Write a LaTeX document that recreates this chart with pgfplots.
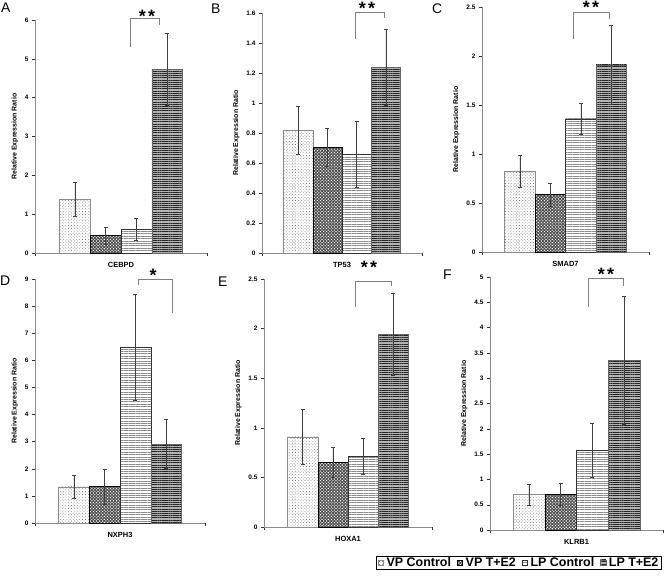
\documentclass[border=0pt]{standalone}
\usepackage{fontspec}
\setmainfont{Liberation Sans}
\usepackage{pgfplots}
\pgfplotsset{compat=1.18}
\usetikzlibrary{patterns.meta}
\tikzset{
  vpc/.style={draw=black!45, fill=white, postaction={pattern={Dots[distance=2.2bp, radius=0.5bp, angle=45]}, pattern color=black!55}},
  vpt/.style={draw=black, fill=black!70, postaction={pattern={Dots[distance=2.2bp, radius=0.75bp, angle=45]}, pattern color=white}},
  lpc/.style={draw=black!80, fill=white, postaction={pattern={Lines[distance=2.4bp, line width=0.6bp]}, pattern color=black!45}},
  lpt/.style={draw=black!60, fill=black!30, postaction={pattern={Lines[distance=2.2bp, line width=0.55bp]}, pattern color=black!85}},
}
\pgfplotsset{
  sqleg/.style={legend image code/.code={\draw[##1] (0bp,-2.8bp) rectangle (5.6bp,2.8bp);}},
  panel/.style={
    scale only axis, anchor=south west,
    xmin=0, xmax=2, ymin=0,
    ybar=0pt,
    axis x line*=bottom, axis y line*=left,
    axis line style={black!45, line width=0.7pt},
    xtick={0,2}, xticklabels={},
    tick align=outside, major tick length=3bp,
    tick style={black!80, line width=0.4pt},
    ticklabel style={font=\fontsize{6.5}{7}\selectfont\bfseries},
    /pgf/number format/assume math mode=true,
    ylabel={Relative Expression Ratio},
    ylabel style={font=\fontsize{7}{8}\selectfont\bfseries},
    xlabel style={font=\fontsize{7.5}{8}\selectfont\bfseries, at={(axis description cs:0.5,0)}, anchor=center, yshift=-12bp},
    clip=false,
    every axis plot/.append style={sqleg, error bars/y dir=both, error bars/y explicit,
      error bars/error bar style={black!75, line width=0.5pt},
      error bars/error mark options={rotate=90, mark size=2bp, black!75, line width=0.5pt}},
  }
}
\begin{document}
\begin{tikzpicture}
\path[use as bounding box] (0,0) rectangle (664bp,-577bp);

% A
\begin{axis}[panel, at={(35bp,-253bp)}, width=172bp, height=233bp, ymax=6, ytick={0,1,...,6}, bar width=30.75bp, xlabel={CEBPD}]
\addplot[vpc] coordinates {(1,1.38) +- (0,0.43)};
\addplot[vpt] coordinates {(1,0.45) +- (0,0.22)};
\addplot[lpc] coordinates {(1,0.61) +- (0,0.29)};
\addplot[lpt] coordinates {(1,4.73) +- (0,0.93)};
\end{axis}

% B
\begin{axis}[panel, at={(262bp,-253bp)}, width=160bp, height=240bp, ymax=1.6, ytick={0,0.2,...,1.6}, bar width=29.25bp, xlabel={TP53}]
\addplot[vpc] coordinates {(1,0.82) +- (0,0.16)};
\addplot[vpt] coordinates {(1,0.705) +- (0,0.125)};
\addplot[lpc] coordinates {(1,0.66) +- (0,0.22)};
\addplot[lpt] coordinates {(1,1.24) +- (0,0.255)};
\end{axis}

% C
\begin{axis}[panel, at={(482bp,-252bp)}, width=167bp, height=245bp, ymax=2.5, ytick={0,0.5,...,2.5}, bar width=30.5bp, xlabel={SMAD7}]
\addplot[vpc] coordinates {(1,0.825) +- (0,0.16)};
\addplot[vpt] coordinates {(1,0.585) +- (0,0.12)};
\addplot[lpc] coordinates {(1,1.36) +- (0,0.16)};
\addplot[lpt] coordinates {(1,1.91) +- (0,0.405)};
\end{axis}

% D
\begin{axis}[panel, at={(35bp,-523bp)}, width=170bp, height=244bp, ymax=9, ytick={0,1,...,9}, bar width=30.75bp, xlabel={NXPH3}]
\addplot[vpc] coordinates {(1,1.33) +- (0,0.42)};
\addplot[vpt] coordinates {(1,1.35) +- (0,0.64)};
\addplot[lpc] coordinates {(1,6.49) +- (0,1.95)};
\addplot[lpt] coordinates {(1,2.91) +- (0,0.9)};
\end{axis}

% E
\begin{axis}[panel, at={(264bp,-527bp)}, width=168bp, height=248bp, ymax=2.5, ytick={0,0.5,...,2.5}, bar width=30.25bp, xlabel={HOXA1}]
\addplot[vpc] coordinates {(1,0.91) +- (0,0.28)};
\addplot[vpt] coordinates {(1,0.655) +- (0,0.15)};
\addplot[lpc] coordinates {(1,0.71) +- (0,0.18)};
\addplot[lpt] coordinates {(1,1.94) +- (0,0.415)};
\end{axis}

% F
\begin{axis}[panel, at={(490bp,-530bp)}, width=173bp, height=253bp, ymax=5, ytick={0,0.5,...,5}, bar width=31.75bp, xlabel={KLRB1},
  legend columns=4,
  legend style={at={(0.994,-0.103)}, anchor=north east, draw=black, line width=0.5pt,
    font=\fontsize{12.5}{13}\selectfont\bfseries, inner xsep=1.5bp, inner ysep=0.5bp,
    nodes={inner xsep=1.8bp, inner ysep=0.6bp},
    /tikz/every even column/.append style={column sep=4bp},
    /tikz/every odd column/.append style={column sep=1bp}},
  legend cell align=left]
\addplot[vpc] coordinates {(1,0.70) +- (0,0.21)};
\addplot[vpt] coordinates {(1,0.70) +- (0,0.22)};
\addplot[lpc] coordinates {(1,1.57) +- (0,0.53)};
\addplot[lpt] coordinates {(1,3.35) +- (0,1.26)};
\legend{VP Control, VP T+E2, LP Control, LP T+E2}
\end{axis}

% panel letters
\begin{scope}[every node/.style={anchor=base west, inner sep=0pt, font=\fontsize{14}{14}\selectfont}]
\node at (1bp,-12bp) {A};
\node at (211bp,-13bp) {B};
\node at (432bp,-13bp) {C};
\node at (0bp,-285bp) {D};
\node at (218bp,-286bp) {E};
\node at (443bp,-279bp) {F};
\end{scope}

% significance brackets
\begin{scope}[black!50, line width=0.7pt]
\draw (130bp,-47bp) -- (130bp,-18bp) -- (159bp,-18bp) -- (159bp,-25bp);
\draw (355bp,-39bp) -- (355bp,-12bp) -- (384bp,-12bp) -- (384bp,-18bp);
\draw (573bp,-39bp) -- (573bp,-12bp) -- (609bp,-12bp) -- (609bp,-19bp);
\draw (138bp,-285bp) -- (138bp,-279bp) -- (172bp,-279bp) -- (172bp,-313bp);
\draw (355bp,-307bp) -- (355bp,-281bp) -- (391bp,-281bp) -- (391bp,-286bp);
\draw (588bp,-307bp) -- (588bp,-278bp) -- (623bp,-278bp) -- (623bp,-286bp);
\end{scope}
\begin{scope}[every node/.style={anchor=base, inner sep=0pt, font=\fontsize{18}{18}\selectfont\bfseries}]
\node at (147bp,-22bp) {*\hspace{2.5bp}*};
\node at (367bp,-14bp) {*\hspace{2.5bp}*};
\node at (591bp,-13bp) {*\hspace{2.5bp}*};
\node at (153bp,-281bp) {*};
\node at (369bp,-273bp) {*\hspace{2.5bp}*};
\node at (606bp,-280bp) {*\hspace{2.5bp}*};
\end{scope}
\end{tikzpicture}
\end{document}
